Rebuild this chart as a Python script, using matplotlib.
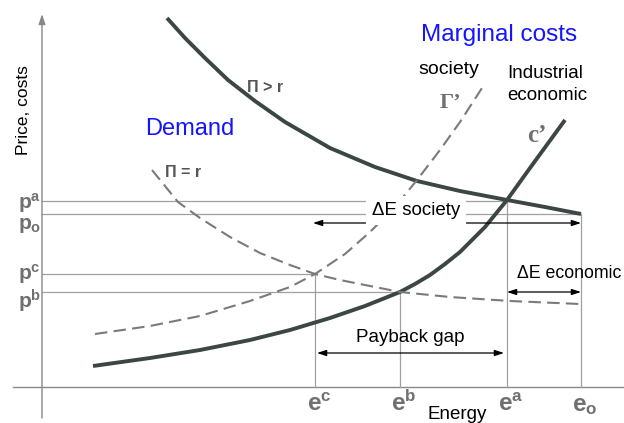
import numpy as np
import matplotlib.pyplot as plt

plt.rcParams['font.family'] = ['Liberation Sans', 'DejaVu Sans']
plt.rcParams['mathtext.fontset'] = 'custom'
plt.rcParams['mathtext.rm'] = 'Liberation Sans'

# curves: energy (E) and price (P), origin at the axes crossing
demand_hi_E = [125, 143, 163, 186, 213, 243, 288, 333, 375, 418, 465, 503, 539]
demand_hi_P = [369, 349, 329, 307, 286, 265, 239, 220, 206, 196, 187, 180, 173]

demand_eq_E = [110, 123, 136, 158, 188, 218, 248, 273, 298, 328, 358, 408, 468, 538]
demand_eq_P = [217, 201, 185, 169, 150, 134, 122, 113, 107, 101, 95, 90, 86, 83]

mc_society_E = [53, 108, 158, 208, 248, 273, 303, 328, 353, 375, 398, 418, 440]
mc_society_P = [53, 61, 71, 86, 100, 113, 133, 155, 180, 207, 237, 265, 299]

mc_industry_E = [51, 108, 158, 208, 248, 288, 323, 358, 373, 388, 403, 418, 443, 465, 488, 523]
mc_industry_P = [21, 29, 37, 47, 57, 69, 81, 95, 103, 112, 123, 135, 160, 187, 219, 267]

# equilibrium points
e_names = ['c', 'b', 'a', 'o']
e_vals = [273, 358, 465, 539]
p_vals = [113, 95, 186, 173]

SOLID = '#3b4645'
DASH = '#7a7a7a'
GRID = '#a0a0a0'
LABEL = '#707070'

fig = plt.figure(figsize=(6.24, 4.23), dpi=100)
ax = fig.add_axes([0, 0, 1, 1])
ax.set_xlim(-42, 582)
ax.set_ylim(-36, 387)
ax.axis('off')

# axes
ax.annotate('', xy=(0, 373), xytext=(0, -31),
            arrowprops=dict(arrowstyle='-|>,head_length=0.6,head_width=0.2',
                            color='#888888', lw=1.0, shrinkA=0, shrinkB=0))
ax.plot([-29, 582], [0, 0], color='#888888', lw=1.0)

# guide lines from each equilibrium
for e, p in zip(e_vals, p_vals):
    ax.plot([0, e], [p, p], color=GRID, lw=0.9)
    ax.plot([e, e], [0, p], color=GRID, lw=0.9)

# curves
ax.plot(demand_hi_E, demand_hi_P, color=SOLID, lw=2.8, solid_capstyle='butt')
ax.plot(mc_industry_E, mc_industry_P, color=SOLID, lw=2.8, solid_capstyle='butt')
ax.plot(demand_eq_E, demand_eq_P, color=DASH, lw=1.5, dashes=(6, 3))
ax.plot(mc_society_E, mc_society_P, color=DASH, lw=1.5, dashes=(6, 3))

# double arrows
arr = dict(arrowstyle='<|-|>,head_length=0.55,head_width=0.18', color='black',
           lw=0.9, shrinkA=0, shrinkB=0)
ax.annotate('', xy=(e_vals[0] - 2, 164), xytext=(e_vals[3], 164), arrowprops=arr)
ax.annotate('', xy=(e_vals[2], p_vals[1]), xytext=(e_vals[3], p_vals[1]), arrowprops=arr)
ax.annotate('', xy=(e_vals[0] + 2, 34), xytext=(e_vals[2] - 3, 34), arrowprops=arr)

# text labels
white = dict(facecolor='white', edgecolor='none', pad=3)
ax.text(374, 172, '\u0394E society', fontsize=13.5, ha='center', va='baseline',
        bbox=dict(facecolor='white', edgecolor='none', pad=4))
ax.text(475, 109, '\u0394E economic', fontsize=12.8, ha='left', va='baseline')
ax.text(368, 45, 'Payback gap', fontsize=13.5, ha='center', va='baseline')
ax.text(415, -32, 'Energy', fontsize=13.5, ha='center', va='baseline')
ax.text(-18, 277, 'Price, costs', fontsize=12.5, ha='center', va='center', rotation=90)

ax.text(148, 252, 'Demand', fontsize=17, color='#1414ff', ha='center', va='baseline')
ax.text(457, 346, 'Marginal costs', fontsize=17.5, color='#1414ff', ha='center',
        va='baseline', bbox=white)
ax.text(376, 313, 'society', fontsize=14, ha='left', va='baseline', bbox=white)
ax.text(465, 309, 'Industrial', fontsize=13.5, ha='left', va='baseline')
ax.text(465, 287, 'economic', fontsize=13.5, ha='left', va='baseline')

ax.text(205, 295, '\u03a0 > r', fontsize=11.5, color='#555555', fontweight='bold',
        ha='left', va='baseline')
ax.text(123, 210, '\u03a0 = r', fontsize=11.5, color='#555555', fontweight='bold',
        ha='left', va='baseline')
ax.text(398, 279, '\u0393\u2019', fontsize=16, color='#707070', family='Liberation Serif',
        fontweight='bold', ha='left', va='baseline')
ax.text(485, 245, 'c\u2019', fontsize=18, color='#707070', family='Liberation Serif',
        fontweight='bold', ha='left', va='baseline')

# tick-like labels on the axes
e_labels = ['$\\mathregular{e^c}$', '$\\mathregular{e^b}$', '$\\mathregular{e^a}$',
            '$\\mathregular{e_o}$']
for e, lab in zip(e_vals, e_labels):
    ax.text(e + 4, -24, lab, fontsize=17.5, color=LABEL, fontweight='bold',
            ha='center', va='baseline')

p_labels = ['$\\mathregular{p^c}$', '$\\mathregular{p^b}$', '$\\mathregular{p^a}$',
            '$\\mathregular{p_o}$']
p_offsets = [6, 16, 8, 15]
for p, lab, off in zip(p_vals, p_labels, p_offsets):
    ax.text(-1, p - off, lab, fontsize=15, color=LABEL, fontweight='bold',
            ha='right', va='baseline')

fig.savefig('out.png', dpi=100, facecolor='white')
